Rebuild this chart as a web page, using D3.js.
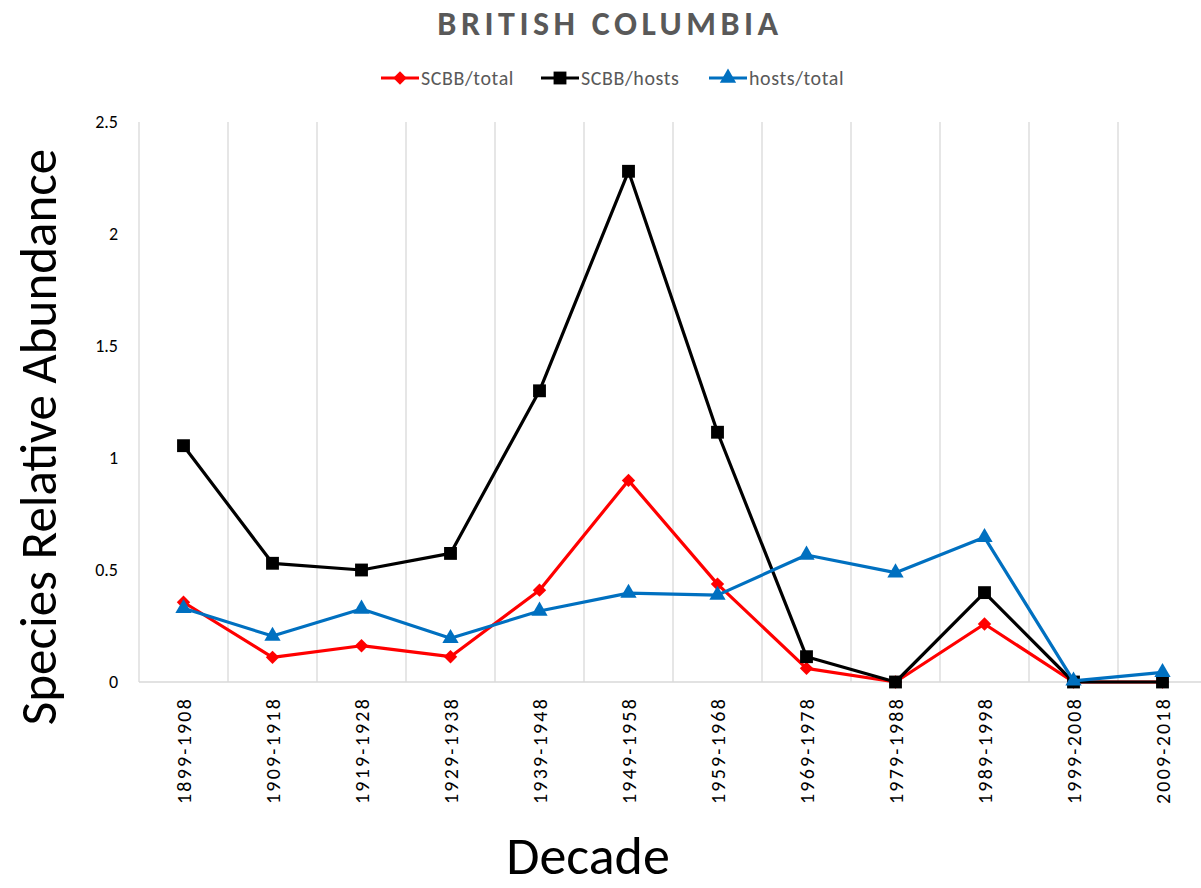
<!DOCTYPE html>
<html>
<head>
<meta charset="utf-8">
<script src="https://cdn.jsdelivr.net/npm/d3@7"></script>
<style>
    body { margin: 0; background: #fff; }
    svg { display: block; font-family: Carlito, Lato, "Liberation Sans", sans-serif; }
</style>
</head>
<body>
<div id="chart"></div>
<script>
const decades = ['1899-1908', '1909-1918', '1919-1928', '1929-1938', '1939-1948', '1949-1958',
    '1959-1968', '1969-1978', '1979-1988', '1989-1998', '1999-2008', '2009-2018'];
const scbbTotal = [0.356, 0.110, 0.162, 0.113, 0.41, 0.90, 0.437, 0.061, 0, 0.259, 0, 0];
const scbbHosts = [1.055, 0.530, 0.500, 0.574, 1.30, 2.28, 1.115, 0.113, 0, 0.399, 0, 0];
const hostsTotal = [0.329, 0.205, 0.326, 0.195, 0.317, 0.397, 0.388, 0.567, 0.488, 0.646, 0.005, 0.043];
const yTicks = [0, 0.5, 1, 1.5, 2, 2.5];

const series = [
    {name: 'SCBB/total', values: scbbTotal, color: '#ff0000', symbol: d3.symbolSquare, size: 90, rotate: 45},
    {name: 'SCBB/hosts', values: scbbHosts, color: '#000000', symbol: d3.symbolSquare, size: 165, rotate: 0},
    {name: 'hosts/total', values: hostsTotal, color: '#0070c0', symbol: d3.symbolTriangle, size: 115, rotate: 0}
];

const width = 1201, height = 888;
const margin = {left: 139, right: -6, top: 122, bottom: 206};

let svg = d3.select('#chart').append('svg')
    .attr('width', width)
    .attr('height', height);

let x = d3.scaleBand()
    .domain(decades)
    .range([margin.left, width - margin.right]);
let y = d3.scaleLinear()
    .domain([0, 2.5])
    .range([height - margin.bottom, margin.top]);

// gridlines on the category boundaries
svg.append('g')
    .selectAll('line')
    .data(decades)
    .join('line')
    .attr('x1', d => x(d))
    .attr('x2', d => x(d))
    .attr('y1', y(2.5))
    .attr('y2', y(0))
    .attr('stroke', '#d9d9d9')
    .attr('stroke-width', 1.3);
svg.append('line')
    .attr('x1', x.range()[0]).attr('x2', x.range()[1])
    .attr('y1', y(0)).attr('y2', y(0))
    .attr('stroke', '#d9d9d9')
    .attr('stroke-width', 1.3);

// y axis
let yAxis = svg.append('g')
    .attr('transform', `translate(${margin.left},0)`)
    .call(d3.axisLeft(y).tickValues(yTicks).tickSize(0).tickPadding(21).tickFormat(d3.format('')));
yAxis.select('.domain').remove();
yAxis.selectAll('text')
    .attr('font-size', 18)
    .attr('font-family', 'Carlito, Lato, sans-serif')
    .attr('fill', '#000');

// x axis
let xAxis = svg.append('g')
    .attr('transform', `translate(0,${y(0)})`)
    .call(d3.axisBottom(x).tickSize(0).tickPadding(0));
xAxis.select('.domain').remove();
xAxis.selectAll('text')
    .attr('font-size', 20)
    .attr('font-family', 'Carlito, Lato, sans-serif')
    .attr('fill', '#000')
    .attr('text-anchor', 'end')
    .attr('dy', '0.35em')
    .attr('transform', 'translate(0,15) rotate(-90)')
    .attr('y', 0)
    .attr('x', 0)
    .style('letter-spacing', '2.2px');

// lines and markers
let line = d3.line()
    .x((d, i) => x(decades[i]) + x.bandwidth() / 2)
    .y(d => y(d));

series.forEach(function (s) {
    let g = svg.append('g');
    g.append('path')
        .datum(s.values)
        .attr('fill', 'none')
        .attr('stroke', s.color)
        .attr('stroke-width', 3.2)
        .attr('stroke-linejoin', 'round')
        .attr('d', line);
    g.selectAll('path.marker')
        .data(s.values)
        .join('path')
        .attr('class', 'marker')
        .attr('d', d3.symbol().type(s.symbol).size(s.size))
        .attr('fill', s.color)
        .attr('transform', (d, i) => `translate(${x(decades[i]) + x.bandwidth() / 2},${y(d)}) rotate(${s.rotate})`);
});

// title
svg.append('text')
    .attr('x', 610)
    .attr('y', 35)
    .attr('text-anchor', 'middle')
    .attr('font-size', 34)
    .attr('font-weight', 'bold')
    .attr('fill', '#595959')
    .style('letter-spacing', '4.5px')
    .text('BRITISH COLUMBIA');

// legend
const legendX = [381, 541, 709];
let legend = svg.append('g');
series.forEach(function (s, i) {
    let item = legend.append('g')
        .attr('transform', `translate(${legendX[i]},78)`);
    item.append('line')
        .attr('x1', 0).attr('x2', 38)
        .attr('stroke', s.color)
        .attr('stroke-width', 3.2);
    item.append('path')
        .attr('d', d3.symbol().type(s.symbol).size(s.size))
        .attr('fill', s.color)
        .attr('transform', `translate(19,0) rotate(${s.rotate})`);
    item.append('text')
        .attr('x', 40)
        .attr('dy', '0.35em')
        .attr('font-size', 20)
        .attr('fill', '#595959')
        .style('letter-spacing', '0.6px')
        .text(s.name);
});

// axis titles
svg.append('text')
    .attr('transform', 'translate(56,437) rotate(-90)')
    .attr('text-anchor', 'middle')
    .attr('font-size', 51)
    .attr('fill', '#000')
    .text('Species Relative Abundance');
svg.append('text')
    .attr('x', 588)
    .attr('y', 874)
    .attr('text-anchor', 'middle')
    .attr('font-size', 54)
    .attr('fill', '#000')
    .text('Decade');
</script>
</body>
</html>
